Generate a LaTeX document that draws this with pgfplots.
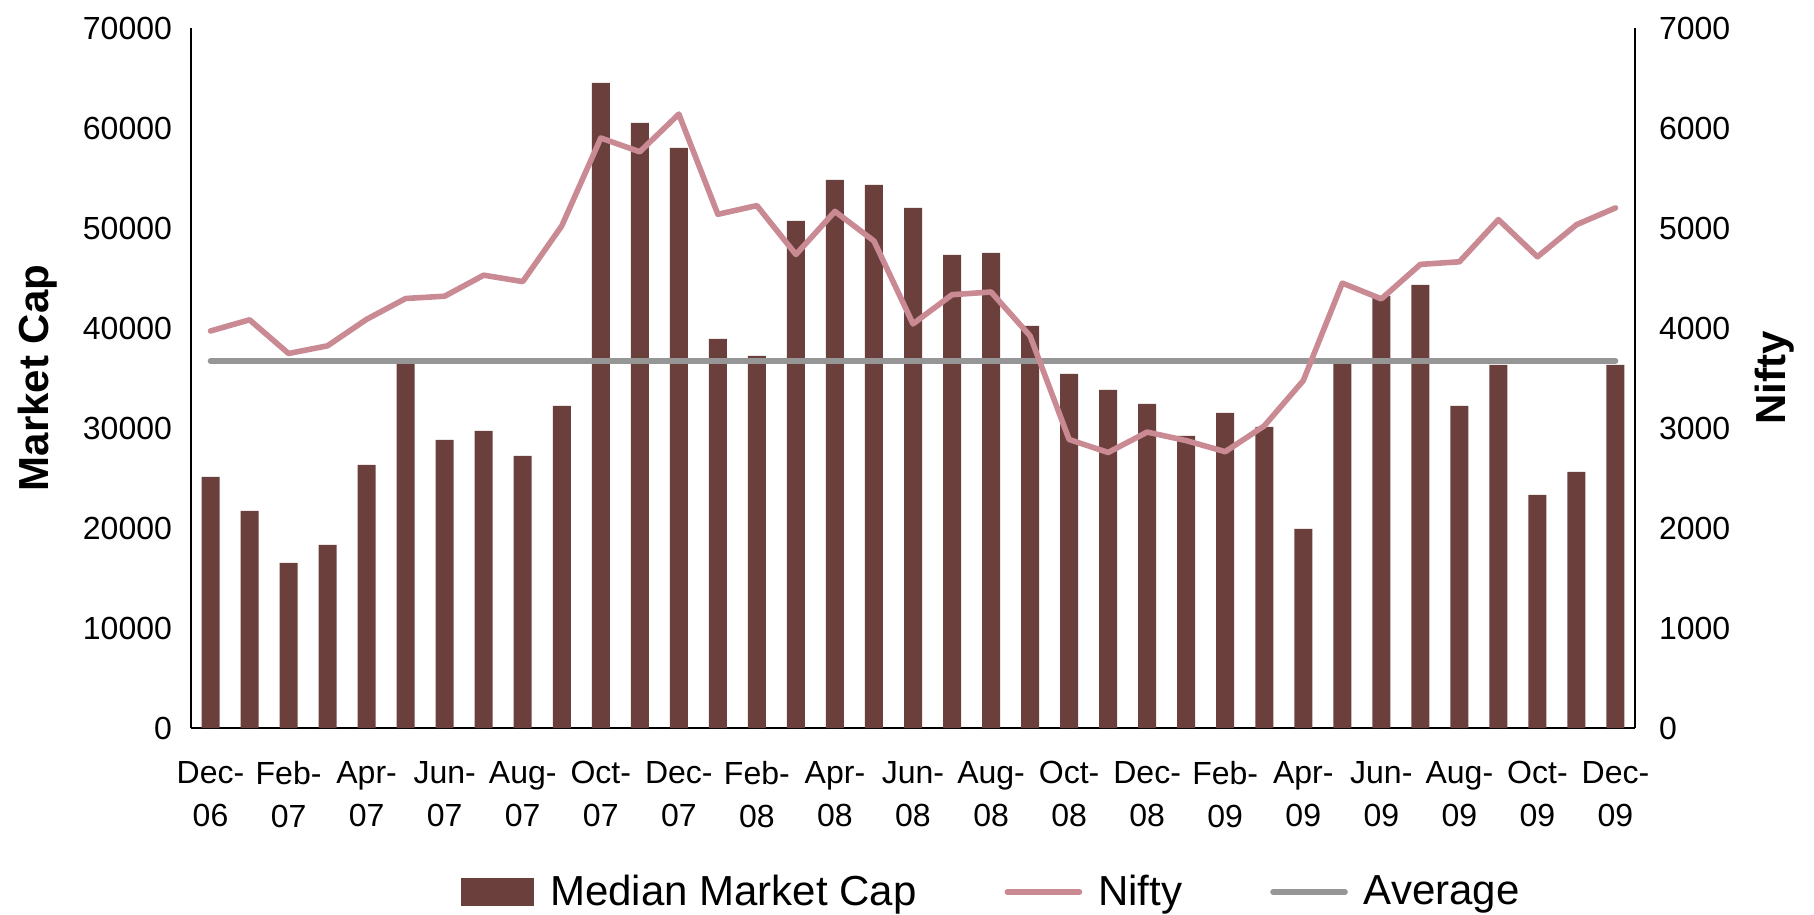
\documentclass[border=0pt]{standalone}
\usepackage{pgfplots}
\pgfplotsset{compat=1.18}
\usepackage{fontspec}
\setmainfont{Liberation Sans}
\definecolor{barcol}{HTML}{6B403C}
\definecolor{niftycol}{HTML}{C98A93}
\definecolor{avgcol}{HTML}{969696}
\pgfplotstableread{
x cap nifty avg
0 25100 3970 36711
1 21700 4082 36711
2 16500 3745 36711
3 18300 3822 36711
4 26300 4087 36711
5 36600 4295 36711
6 28800 4318 36711
7 29700 4528 36711
8 27200 4464 36711
9 32200 5021 36711
10 64500 5900 36711
11 60500 5762 36711
12 58000 6139 36711
13 38900 5137 36711
14 37200 5224 36711
15 50700 4735 36711
16 54800 5166 36711
17 54300 4870 36711
18 52000 4041 36711
19 47300 4333 36711
20 47500 4360 36711
21 40200 3921 36711
22 35400 2885 36711
23 33800 2755 36711
24 32400 2959 36711
25 29200 2874 36711
26 31500 2763 36711
27 30100 3021 36711
28 19900 3474 36711
29 36500 4449 36711
30 43200 4291 36711
31 44300 4636 36711
32 32200 4662 36711
33 36300 5084 36711
34 23300 4712 36711
35 25600 5033 36711
36 36300 5201 36711
}\datatable
\begin{document}
\begin{tikzpicture}
\useasboundingbox (-95.5pt,-93.5pt) rectangle (811.5pt,364pt);
\pgfplotsset{
  base/.style={
    scale only axis, width=722pt, height=350pt,
    xmin=-0.5, xmax=36.5,
    major tick length=0pt,
    scaled y ticks=false,
    /pgf/number format/assume math mode=true,
    /pgf/number format/1000 sep={},
    tick label style={font=\fontsize{16}{21.5}\selectfont},
    label style={font=\bfseries\fontsize{21}{25}\selectfont},
    axis line style={line width=1.1pt},
  }
}
\begin{axis}[base,
  axis x line*=bottom, axis y line*=left,
  ymin=0, ymax=70000, ytick={0,10000,...,70000},
  xtick={0,2,...,36},
  xticklabels={{Dec-\\06},{Feb-\\07},{Apr-\\07},{Jun-\\07},{Aug-\\07},{Oct-\\07},{Dec-\\07},{Feb-\\08},{Apr-\\08},{Jun-\\08},{Aug-\\08},{Oct-\\08},{Dec-\\08},{Feb-\\09},{Apr-\\09},{Jun-\\09},{Aug-\\09},{Oct-\\09},{Dec-\\09}},
  xticklabel style={align=center, yshift=-13pt},
  yticklabel style={xshift=-6pt},
  ylabel={Market Cap},
  ylabel style={at={(axis description cs:-0.106,0.5)}, anchor=center, rotate=0},
]
\addplot[ybar, bar width=9pt, fill=barcol, draw=none] table[x=x, y=cap] {\datatable};
\addplot[avgcol, line width=2.8pt, line cap=round] table[x=x, y=avg] {\datatable};
\end{axis}
\begin{axis}[base,
  axis x line=none, axis y line*=right,
  ymin=0, ymax=7000, ytick={0,1000,...,7000},
  yticklabel style={xshift=8.5pt},
  ylabel={Nifty},
  ylabel style={at={(axis description cs:1.0965,0.5)}, anchor=center, rotate=0},
  legend columns=3,
  legend image code/.code={\draw[#1] (0pt,0pt) -- (36pt,0pt);},
  legend style={draw=none, font=\fontsize{21}{25}\selectfont,
    at={(0.555,-0.234)}, anchor=center,
    /tikz/every odd column/.append style={column sep=6pt},
    /tikz/every even column/.append style={column sep=42pt}},
]
\addlegendimage{legend image code/.code={\fill[barcol] (0pt,-6.75pt) rectangle (36pt,6.75pt);}}
\addlegendentry{Median Market Cap}
\addplot[niftycol, line width=2.8pt, line join=round, line cap=round] table[x=x, y=nifty] {\datatable};
\addlegendentry{Nifty}
\addlegendimage{avgcol, line width=2.8pt, line cap=round}
\addlegendentry{Average}
\end{axis}
\end{tikzpicture}
\end{document}
